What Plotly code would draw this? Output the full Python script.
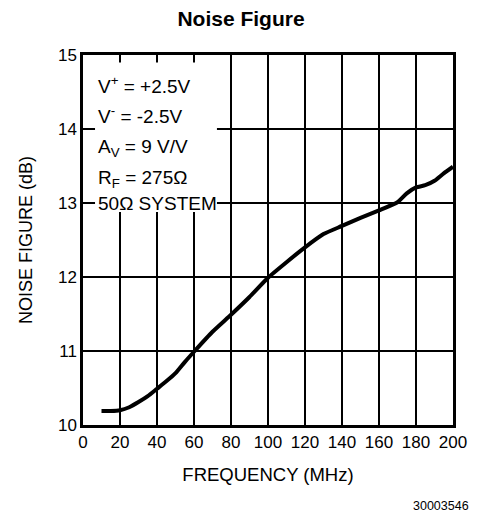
import plotly.graph_objects as go

freq_mhz = [10, 15, 20, 25, 30, 35, 40, 45, 50, 55, 60, 70, 80, 90, 100, 110, 120, 130, 140, 150, 160, 170, 175, 180, 185, 190, 195, 200]
noise_db = [10.19, 10.19, 10.20, 10.24, 10.31, 10.39, 10.49, 10.59, 10.70, 10.85, 10.99, 11.26, 11.49, 11.73, 11.99, 12.20, 12.40, 12.58, 12.69, 12.80, 12.90, 13.01, 13.13, 13.21, 13.24, 13.30, 13.40, 13.49]

x_ticks = [0, 20, 40, 60, 80, 100, 120, 140, 160, 180, 200]
y_ticks = [10, 11, 12, 13, 14, 15]

cond_lines = ["V<sup>+</sup> = +2.5V", "V<sup>-</sup> = -2.5V", "A<sub>V</sub> = 9 V/V",
              "R<sub>F</sub> = 275\u03a9", "50\u03a9 SYSTEM"]
cond_y = [14.6, 14.19, 13.74, 13.33, 13.0]

FONT = "Liberation Sans, Arial, sans-serif"

# page has an 8px body margin; figure is sized/offset to compensate
W, H = 473, 508
L, R, T, B = 75, 28, 47, 91
PW, PH = W - L - R, H - T - B

fig = go.Figure()
fig.add_trace(go.Scatter(x=freq_mhz, y=noise_db, mode="lines",
                         line=dict(color="black", width=4, shape="spline", smoothing=0.5),
                         showlegend=False, hoverinfo="skip"))

fig.add_shape(type="rect", xref="x", yref="y", x0=6.5, x1=72.4, y0=12.88, y1=14.9,
              fillcolor="white", line=dict(width=0), layer="above")

for txt, yy in zip(cond_lines, cond_y):
    fig.add_annotation(x=7.0, y=yy, xref="x", yref="y", text=txt, showarrow=False,
                       xanchor="left", yanchor="middle",
                       font=dict(family=FONT, size=19, color="black"))

fig.add_annotation(x=(433 - L) / PW, y=(PH + T - 498) / PH, xref="paper", yref="paper",
                   text="30003546", showarrow=False, xanchor="center", yanchor="middle",
                   font=dict(family=FONT, size=12.5, color="black"))

fig.update_layout(
    width=W, height=H,
    margin=dict(l=L, r=R, t=T, b=B),
    paper_bgcolor="white", plot_bgcolor="white",
    title=dict(text="<b>Noise Figure</b>", x=233 / W, xanchor="center", y=1 - 11 / H,
               yanchor="middle", font=dict(family=FONT, size=21, color="black")),
    font=dict(family=FONT, size=17, color="black"),
    xaxis=dict(range=[0, 200], tickvals=x_ticks, ticktext=[str(v) for v in x_ticks],
               showgrid=True, gridcolor="black", gridwidth=1.5,
               showline=True, linecolor="black", linewidth=2.5, mirror=True,
               ticks="", zeroline=False, fixedrange=True,
               title=dict(text="FREQUENCY (MHz)", standoff=17, font=dict(size=18.5)),
               tickfont=dict(size=17)),
    yaxis=dict(range=[10, 15], tickvals=y_ticks, ticktext=[str(v) for v in y_ticks],
               showgrid=True, gridcolor="black", gridwidth=1.5,
               showline=True, linecolor="black", linewidth=2.5, mirror=True,
               ticks="", zeroline=False, fixedrange=True,
               title=dict(text="NOISE FIGURE (dB)", standoff=21, font=dict(size=18)),
               tickfont=dict(size=17)),
)

fig.write_html("out.html")
